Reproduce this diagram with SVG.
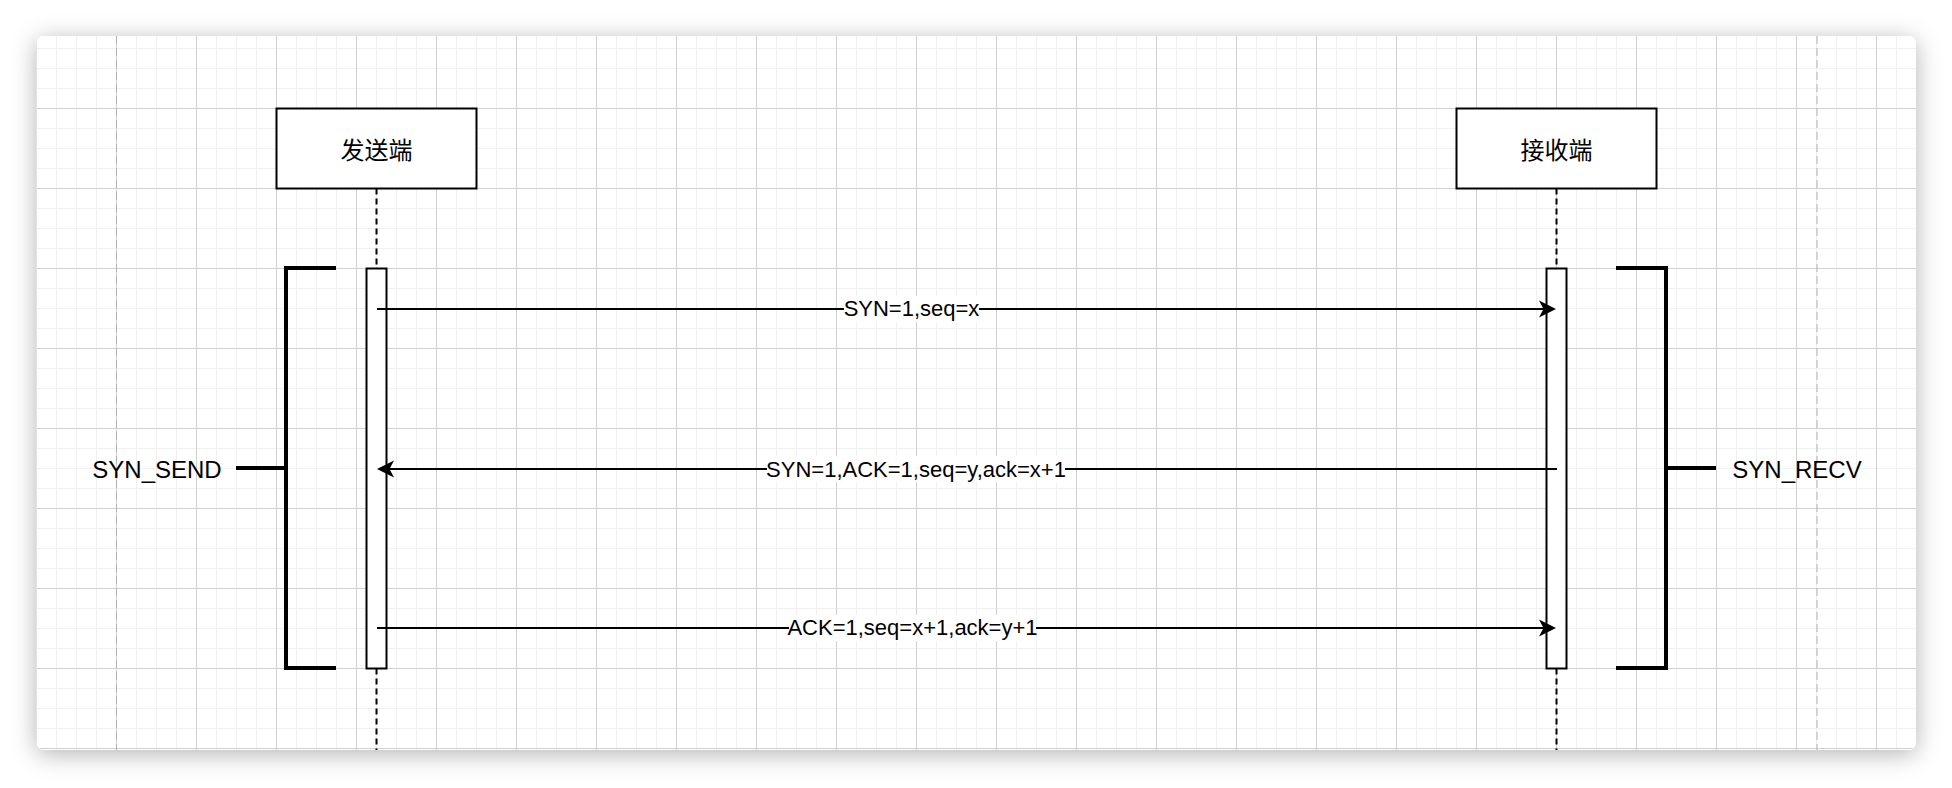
<svg xmlns="http://www.w3.org/2000/svg" width="1952" height="788" viewBox="0 0 1952 788">
<defs>
<pattern id="grid" patternUnits="userSpaceOnUse" x="36" y="28" width="80" height="80">
<path d="M20.5 0V80M40.5 0V80M60.5 0V80M0 20.5H80M0 40.5H80M0 60.5H80" stroke="#f0f0f0" stroke-width="1" fill="none"/>
<path d="M0.5 0V80M0 0.5H80" stroke="#d0d0d0" stroke-width="1" fill="none"/>
</pattern>
<filter id="shadow" x="-5%" y="-10%" width="110%" height="120%">
<feDropShadow dx="0" dy="4" stdDeviation="12" flood-color="#000" flood-opacity="0.3"/>
</filter>
<marker id="arrow" markerUnits="userSpaceOnUse" viewBox="-18 -10 20 20" markerWidth="20" markerHeight="20" refX="-12" refY="0" orient="auto" overflow="visible">
<path d="M0,0 L-17,-8.5 L-12.5,0 L-17,8.5 Z" fill="#000"/>
</marker>
</defs>
<style>
.box{fill:#fff;stroke:#000;stroke-width:2}
.life{stroke:#000;stroke-width:2;stroke-dasharray:6 4;fill:none}
.page{stroke:#b0b0b0;stroke-width:1;stroke-dasharray:8 4;fill:none}
.bracket{stroke:#000;stroke-width:4;fill:none;stroke-linejoin:miter}
.msg{stroke:#000;stroke-width:2;fill:none}
.lbl{font-family:"Liberation Sans",Arial,sans-serif;font-size:22px;fill:#000;text-anchor:middle}
.state{font-family:"Liberation Sans",Arial,sans-serif;font-size:24px;fill:#000;text-anchor:middle}
.cjk{font-family:"Liberation Sans","Noto Sans CJK SC",sans-serif;font-size:24px;fill:#000;text-anchor:middle}
.lblbg{fill:#fff}
</style>
<rect width="1952" height="788" fill="#fff"/>
<rect x="36.5" y="36" width="1879.5" height="714" rx="8" fill="#fff" filter="url(#shadow)"/>
<rect x="36.5" y="36" width="1879.5" height="714" rx="8" fill="url(#grid)"/>
<g id="page-bounds">
<path class="page" d="M116.5 36V750M1817 36V750"/>
</g>
<g id="sender">
<rect class="box" x="276.5" y="108.5" width="200" height="80"/>
<text class="cjk" x="376.5" y="158.5">发送端</text>
<path class="life" d="M376.5 188.5V268.5M376.5 668.5V750"/>
<rect id="sender-activation" class="box" x="366.5" y="268.5" width="20" height="400"/>
</g>
<g id="receiver">
<rect class="box" x="1456.5" y="108.5" width="200" height="80"/>
<text class="cjk" x="1556.5" y="158.5">接收端</text>
<path class="life" d="M1556.5 188.5V268.5M1556.5 668.5V750"/>
<rect id="receiver-activation" class="box" x="1546.5" y="268.5" width="20" height="400"/>
</g>
<g id="syn-send">
<path class="bracket" d="M336 268H286V668H336M236 468H286"/>
<text class="state" x="157" y="478">SYN_SEND</text>
</g>
<g id="syn-recv">
<path class="bracket" d="M1616 268H1666V668H1616M1666 468H1716"/>
<text class="state" x="1797" y="478">SYN_RECV</text>
</g>
<g id="connectors">
<path class="msg" d="M377 309H1544" marker-end="url(#arrow)"/>
<path class="msg" d="M1557 469H389" marker-end="url(#arrow)"/>
<path class="msg" d="M377 628H1544" marker-end="url(#arrow)"/>
<rect class="lblbg" x="844" y="296" width="135" height="26"/>
<text class="lbl" x="911.5" y="316">SYN=1,seq=x</text>
<rect class="lblbg" x="767" y="456" width="298" height="26"/>
<text class="lbl" x="916" y="477">SYN=1,ACK=1,seq=y,ack=x+1</text>
<rect class="lblbg" x="789" y="615" width="247" height="26"/>
<text class="lbl" x="912.5" y="635">ACK=1,seq=x+1,ack=y+1</text>
</g>
</svg>
